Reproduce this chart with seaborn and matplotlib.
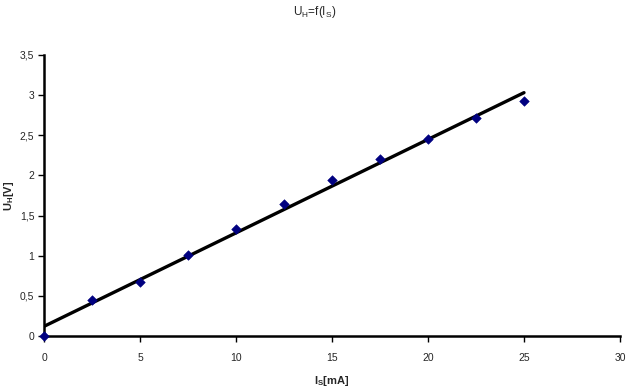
import seaborn as sns
import pandas as pd
import matplotlib
matplotlib.use("Agg")
import matplotlib.pyplot as plt
from matplotlib.ticker import FuncFormatter, MultipleLocator

current_ma = [0, 2.5, 5, 7.5, 10, 12.5, 15, 17.5, 20, 22.5, 25]
hall_voltage = [0, 0.45, 0.67, 1.01, 1.33, 1.64, 1.94, 2.20, 2.45, 2.71, 2.93]

data = pd.DataFrame({"Is": current_ma, "Uh": hall_voltage})

sns.set_style("white")
plt.rcParams['font.family'] = ['Liberation Sans', 'DejaVu Sans']
plt.rcParams['mathtext.default'] = 'regular'

fig = plt.figure(figsize=(6.3, 3.9), dpi=100)
ax = fig.add_axes([44 / 630, 1 - 336 / 390, 576 / 630, 281 / 390])

# linear trend line over the measured range
sns.regplot(data=data, x="Is", y="Uh", ci=None, scatter=False, truncate=True,
            line_kws={"color": "black", "linewidth": 2.4}, ax=ax)
sns.scatterplot(data=data, x="Is", y="Uh", marker="D", s=24, color="#000080",
                edgecolor="#000080", zorder=5, clip_on=False, ax=ax)

ax.set_xlim(0, 30)
ax.set_ylim(0, 3.5)
ax.xaxis.set_major_locator(MultipleLocator(5))
ax.yaxis.set_major_locator(MultipleLocator(0.5))
comma = FuncFormatter(lambda v, p: ("%g" % v).replace(".", ","))
ax.xaxis.set_major_formatter(comma)
ax.yaxis.set_major_formatter(comma)

for side in ["top", "right"]:
    ax.spines[side].set_visible(False)
for side in ["left", "bottom"]:
    ax.spines[side].set_color("black")
    ax.spines[side].set_linewidth(1.8)
ax.tick_params(axis="x", direction="out", length=4, width=1, color="black",
               labelsize=7.5, pad=8, bottom=True)
ax.tick_params(axis="y", direction="out", length=4, width=1, color="black",
               labelsize=7.5, pad=3, left=True)

ax.set_xlabel("I$_S$[mA]", fontsize=8, fontweight="bold", labelpad=8)
ax.set_ylabel("U$_H$[V]", fontsize=8, fontweight="bold")
ax.yaxis.set_label_coords(-0.048, 0.5)
fig.text(0.5, 1 - 12 / 390, "U$_H$=f(I$_S$)", ha="center", va="center", fontsize=8.5)

fig.savefig("out.png", dpi=100)
